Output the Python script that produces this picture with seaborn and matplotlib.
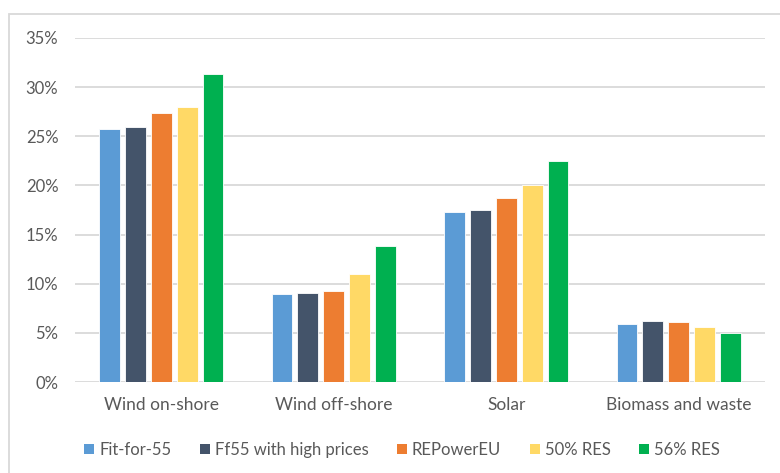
import matplotlib
matplotlib.use("Agg")
import matplotlib.pyplot as plt
from matplotlib.patches import Rectangle, Patch
from matplotlib.ticker import PercentFormatter
import seaborn as sns
import pandas as pd

# Share of electricity generation by technology and scenario
categories = ["Wind on-shore", "Wind off-shore", "Solar", "Biomass and waste"]
scenarios = ["Fit-for-55", "Ff55 with high prices", "REPowerEU", "50% RES", "56% RES"]
fit_for_55 = [0.257, 0.090, 0.173, 0.059]
ff55_high_prices = [0.259, 0.091, 0.175, 0.062]
repowereu = [0.274, 0.093, 0.187, 0.061]
res_50 = [0.280, 0.110, 0.200, 0.056]
res_56 = [0.313, 0.138, 0.225, 0.050]
colors = ["#5B9BD5", "#44546A", "#ED7D31", "#FFD966", "#00B050"]

series = [fit_for_55, ff55_high_prices, repowereu, res_50, res_56]
rows = []
for name, vals in zip(scenarios, series):
    for cat, v in zip(categories, vals):
        rows.append({"Technology": cat, "Scenario": name, "Share": v})
df = pd.DataFrame(rows)

sns.set_theme(style="white")
plt.rcParams["font.family"] = ["Lato", "DejaVu Sans"]
text_color = "#595959"
grid_color = "#D9D9D9"

fig = plt.figure(figsize=(7.8, 4.73), dpi=100)
ax = fig.add_axes([75 / 780, 1 - 382 / 473, 690 / 780, 344 / 473])

sns.barplot(data=df, x="Technology", y="Share", hue="Scenario",
            order=categories, hue_order=scenarios, palette=colors,
            saturation=1, width=0.75, gap=0.19, edgecolor="white", linewidth=0.6,
            errorbar=None, legend=False, ax=ax)

ax.set_ylim(0, 0.35)
ax.set_yticks([i * 0.05 for i in range(8)])
ax.yaxis.set_major_formatter(PercentFormatter(1.0, decimals=0))
ax.set_xlim(-0.5, len(categories) - 0.5)
ax.grid(axis="y", color=grid_color, linewidth=1.3)
ax.set_axisbelow(True)
for side in ["top", "right", "left", "bottom"]:
    ax.spines[side].set_visible(False)
ax.set_xlabel("")
ax.set_ylabel("")
ax.tick_params(axis="y", length=0, pad=12, labelsize=12, labelcolor=text_color)
ax.tick_params(axis="x", length=0, pad=11, labelsize=12.5, labelcolor=text_color)

handles = [Patch(facecolor=c, edgecolor="none") for c in colors]
fig.legend(handles, scenarios, loc="center", bbox_to_anchor=(402 / 780, 1 - 450 / 473),
           ncol=5, frameon=False, fontsize=12, labelcolor=text_color,
           handlelength=0.6, handleheight=0.6, handletextpad=0.3, columnspacing=1.7)

# Light chart-area border
fig.patches.append(Rectangle((9 / 780, -0.1), 2.0, (473 - 14) / 473 + 0.1,
                             transform=fig.transFigure, fill=False,
                             edgecolor=grid_color, linewidth=1.3))

fig.savefig("out.png", dpi=100, facecolor="white")
